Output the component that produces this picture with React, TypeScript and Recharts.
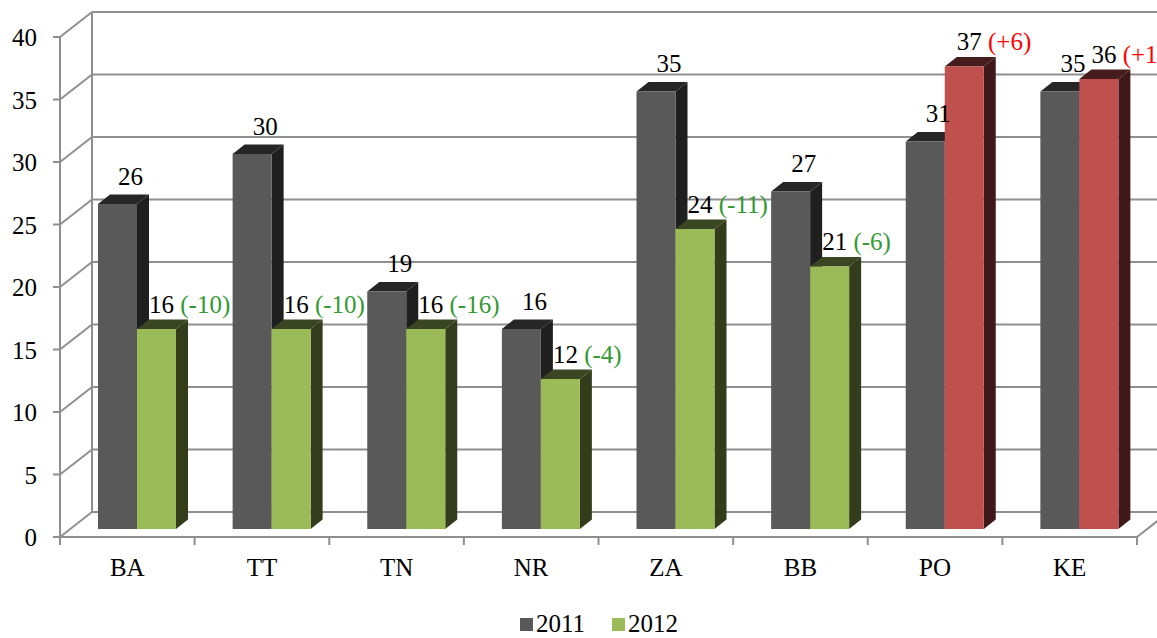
import React from "react";
import { BarChart, Bar, XAxis, YAxis, CartesianGrid, Legend, LabelList } from "recharts";

const categories = ["BA", "TT", "TN", "NR", "ZA", "BB", "PO", "KE"];
const values2011 = [26, 30, 19, 16, 35, 27, 31, 35];
const values2012 = [16, 16, 16, 12, 24, 21, 37, 36];
const changes2012 = ["(-10)", "(-10)", "(-16)", "(-4)", "(-11)", "(-6)", "(+6)", "(+1)"];
const yTicks = [0, 5, 10, 15, 20, 25, 30, 35, 40];

const data = categories.map((cat, i) => ({ cat, y2011: values2011[i], y2012: values2012[i] }));

const W = 1157;
const H = 638;
const PLOT_LEFT = 60;
const PLOT_RIGHT = 1137;
const PLOT_TOP = 37;
const PLOT_BOTTOM = 537;
const BAND = (PLOT_RIGHT - PLOT_LEFT) / categories.length;

// oblique offsets: front plane -> bar face plane, bar depth, back wall
const BX = 10;
const BY = 8;
const DX = 12;
const DY = 9.5;
const WX = 32;
const WY = 25;

const FONT = "Liberation Serif, Times New Roman, DejaVu Serif, serif";
const LINE = "#8f8f8f";

const COLORS = {
  gray: { front: "#595959", side: "#1f1f1f", top: "#262626" },
  green: { front: "#9bbb59", side: "#333d1c", top: "#3a4621" },
  red: { front: "#c0504d", side: "#3f1919", top: "#461c1c" },
};

const isUp = (i: number) => changes2012[i].includes("+");

function Box3D(props: any) {
  const { x, y, width, height, c } = props;
  const fx = x + BX;
  const fy = y - BY;
  const w = width;
  const h = height;
  return (
    <g>
      <polygon
        points={`${fx + w},${fy} ${fx + w + DX},${fy - DY} ${fx + w + DX},${fy + h - DY} ${fx + w},${fy + h}`}
        fill={c.side}
      />
      <polygon
        points={`${fx},${fy} ${fx + DX},${fy - DY} ${fx + w + DX},${fy - DY} ${fx + w},${fy}`}
        fill={c.top}
      />
      <rect x={fx} y={fy} width={w} height={h} fill={c.front} />
    </g>
  );
}

const shape2011 = (props: any) => <Box3D {...props} c={COLORS.gray} />;
const shape2012 = (props: any) => <Box3D {...props} c={isUp(props.index) ? COLORS.red : COLORS.green} />;

const label2011 = (props: any) => {
  const { x, y, width, value } = props;
  return (
    <text x={x + BX + width / 2 + 13} y={y - BY - DY - 10} textAnchor="middle" fontFamily={FONT} fontSize={25} fill="#000">
      {value}
    </text>
  );
};

const label2012 = (props: any) => {
  const { x, y, value, index } = props;
  const up = isUp(index);
  return (
    <text x={x + BX + 12} y={y - BY - DY - 7} textAnchor="start" fontFamily={FONT} fontSize={25} fill="#000">
      <tspan>{value} </tspan>
      <tspan fill={up ? "#ff0000" : "#339933"}>{changes2012[index]}</tspan>
    </text>
  );
};

const YTick = (props: any) => {
  const { y, payload } = props;
  return (
    <g>
      <line x1={PLOT_LEFT - 7} y1={y} x2={PLOT_LEFT} y2={y} stroke={LINE} strokeWidth={2} />
      <line x1={PLOT_LEFT} y1={y} x2={PLOT_LEFT + WX} y2={y - WY} stroke={LINE} strokeWidth={2} />
      {payload.value === 0 && (
        <line x1={PLOT_LEFT + WX} y1={PLOT_BOTTOM - WY} x2={PLOT_LEFT + WX} y2={PLOT_TOP - WY} stroke={LINE} strokeWidth={2} />
      )}
      <text x={37} y={y + 9} textAnchor="end" fontFamily={FONT} fontSize={25} fill="#000">
        {payload.value}
      </text>
    </g>
  );
};

const XTick = (props: any) => {
  const { x, payload, index } = props;
  const last = index === categories.length - 1;
  return (
    <g>
      <line x1={x - BAND / 2} y1={PLOT_BOTTOM} x2={x - BAND / 2} y2={PLOT_BOTTOM + 8} stroke={LINE} strokeWidth={2} />
      {last && (
        <>
          <line x1={x + BAND / 2} y1={PLOT_BOTTOM} x2={x + BAND / 2} y2={PLOT_BOTTOM + 8} stroke={LINE} strokeWidth={2} />
          <line x1={PLOT_RIGHT} y1={PLOT_BOTTOM} x2={PLOT_RIGHT + WX} y2={PLOT_BOTTOM - WY} stroke={LINE} strokeWidth={2} />
        </>
      )}
      <text x={x} y={576} textAnchor="middle" fontFamily={FONT} fontSize={25} fill="#000">
        {payload.value}
      </text>
    </g>
  );
};

const backWallLine = (props: any) => {
  const { x1, y1, x2, key } = props;
  return <line key={key} x1={x1 + WX} y1={y1 - WY} x2={x2 + WX + 20} y2={y1 - WY} stroke={LINE} strokeWidth={2} />;
};

const LegendContent = () => (
  <div style={{ display: "flex", alignItems: "center", height: 24, fontFamily: FONT, fontSize: 25, color: "#000" }}>
    <span style={{ width: 13, height: 13, background: COLORS.gray.front, display: "inline-block", marginRight: 3 }} />
    <span style={{ marginRight: 27 }}>2011</span>
    <span style={{ width: 13, height: 13, background: COLORS.green.front, display: "inline-block", marginRight: 3 }} />
    <span>2012</span>
  </div>
);

export default function App() {
  return (
    <div style={{ position: "absolute", left: 0, top: 0, width: W, height: H, overflow: "hidden", background: "#fff" }}>
      <BarChart
        width={W}
        height={H}
        data={data}
        margin={{ top: PLOT_TOP, right: W - PLOT_RIGHT, left: 0, bottom: 0 }}
        barSize={39}
        barGap={0}
      >
        <CartesianGrid vertical={false} horizontal={backWallLine} />
        <YAxis
          width={PLOT_LEFT}
          domain={[0, 40]}
          ticks={yTicks}
          interval={0}
          axisLine={{ stroke: LINE, strokeWidth: 2 }}
          tickLine={false}
          tick={YTick}
        />
        <XAxis
          dataKey="cat"
          height={77}
          interval={0}
          axisLine={{ stroke: LINE, strokeWidth: 2 }}
          tickLine={false}
          tick={XTick}
        />
        <Legend
          verticalAlign="bottom"
          height={24}
          wrapperStyle={{ left: 520, width: 200, bottom: 2 }}
          content={LegendContent}
        />
        <Bar dataKey="y2011" name="2011" isAnimationActive={false} shape={shape2011}>
          <LabelList dataKey="y2011" content={label2011} />
        </Bar>
        <Bar dataKey="y2012" name="2012" isAnimationActive={false} shape={shape2012}>
          <LabelList dataKey="y2012" content={label2012} />
        </Bar>
      </BarChart>
    </div>
  );
}
